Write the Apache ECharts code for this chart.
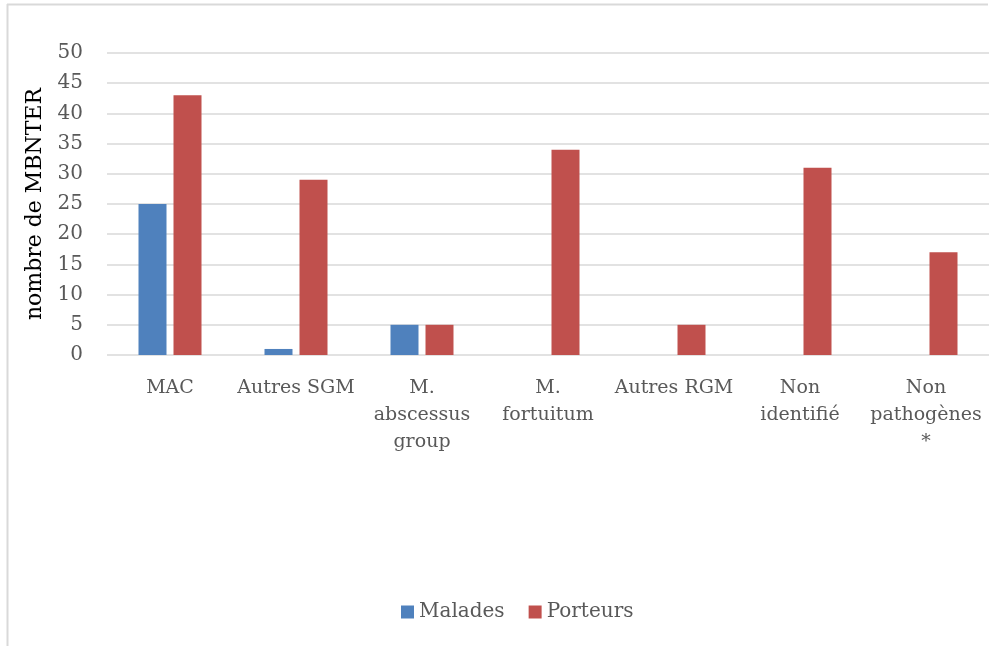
<!DOCTYPE html>
<html>
<head>
<meta charset="utf-8">
<script src="https://cdn.jsdelivr.net/npm/echarts@6/dist/echarts.min.js"></script>
<style>
  html, body { margin: 0; padding: 0; background: #fff; }
  #chart { width: 998px; height: 646px; }
</style>
</head>
<body>
<div id="chart"></div>
<script>
const categories = ['MAC', 'Autres SGM', 'M.\nabscessus\ngroup', 'M.\nfortuitum', 'Autres RGM', 'Non\nidentifié', 'Non\npathogènes\n*']
const malades = [25, 1, 5, 0, 0, 0, 0]
const porteurs = [43, 29, 5, 34, 5, 31, 17]

const font = 'DejaVu Serif'
const c = echarts.init(document.getElementById('chart'))
c.setOption({
  animation: false,
  textStyle: { fontFamily: font },
  graphic: [
    { type: 'line', shape: { x1: 7.5, y1: 4, x2: 7.5, y2: 646 }, style: { stroke: '#d9d9d9', lineWidth: 2 } },
    { type: 'line', shape: { x1: 7, y1: 4.5, x2: 988, y2: 4.5 }, style: { stroke: '#d9d9d9', lineWidth: 2 } }
  ],
  legend: {
    data: ['Malades', 'Porteurs'],
    bottom: 19, left: 396,
    itemWidth: 13, itemHeight: 13, itemGap: 24,
    icon: 'rect',
    textStyle: { fontFamily: font, fontSize: 20, color: '#595959' }
  },
  grid: { left: 107, right: 9, top: 53, bottom: 291 },
  xAxis: {
    type: 'category', data: categories,
    axisLine: { show: false }, axisTick: { show: false },
    axisLabel: { color: '#595959', fontSize: 19, fontFamily: font, margin: 20, lineHeight: 27, interval: 0 }
  },
  yAxis: {
    type: 'value', min: 0, max: 50, interval: 5,
    name: 'nombre de MBNTER', nameLocation: 'middle', nameGap: 60,
    nameTextStyle: { color: '#000', fontSize: 22, fontFamily: font },
    axisLabel: { color: '#595959', fontSize: 20, fontFamily: font, margin: 24 },
    splitLine: { lineStyle: { color: '#d9d9d9', width: 1.5 } }
  },
  series: [
    { name: 'Malades', type: 'bar', data: malades, barWidth: 28, barGap: '25%',
      itemStyle: { color: '#4f81bd' } },
    { name: 'Porteurs', type: 'bar', data: porteurs, barWidth: 28,
      itemStyle: { color: '#c0504d' } }
  ]
})
window.addEventListener('resize', () => c.resize())
</script>
</body>
</html>
